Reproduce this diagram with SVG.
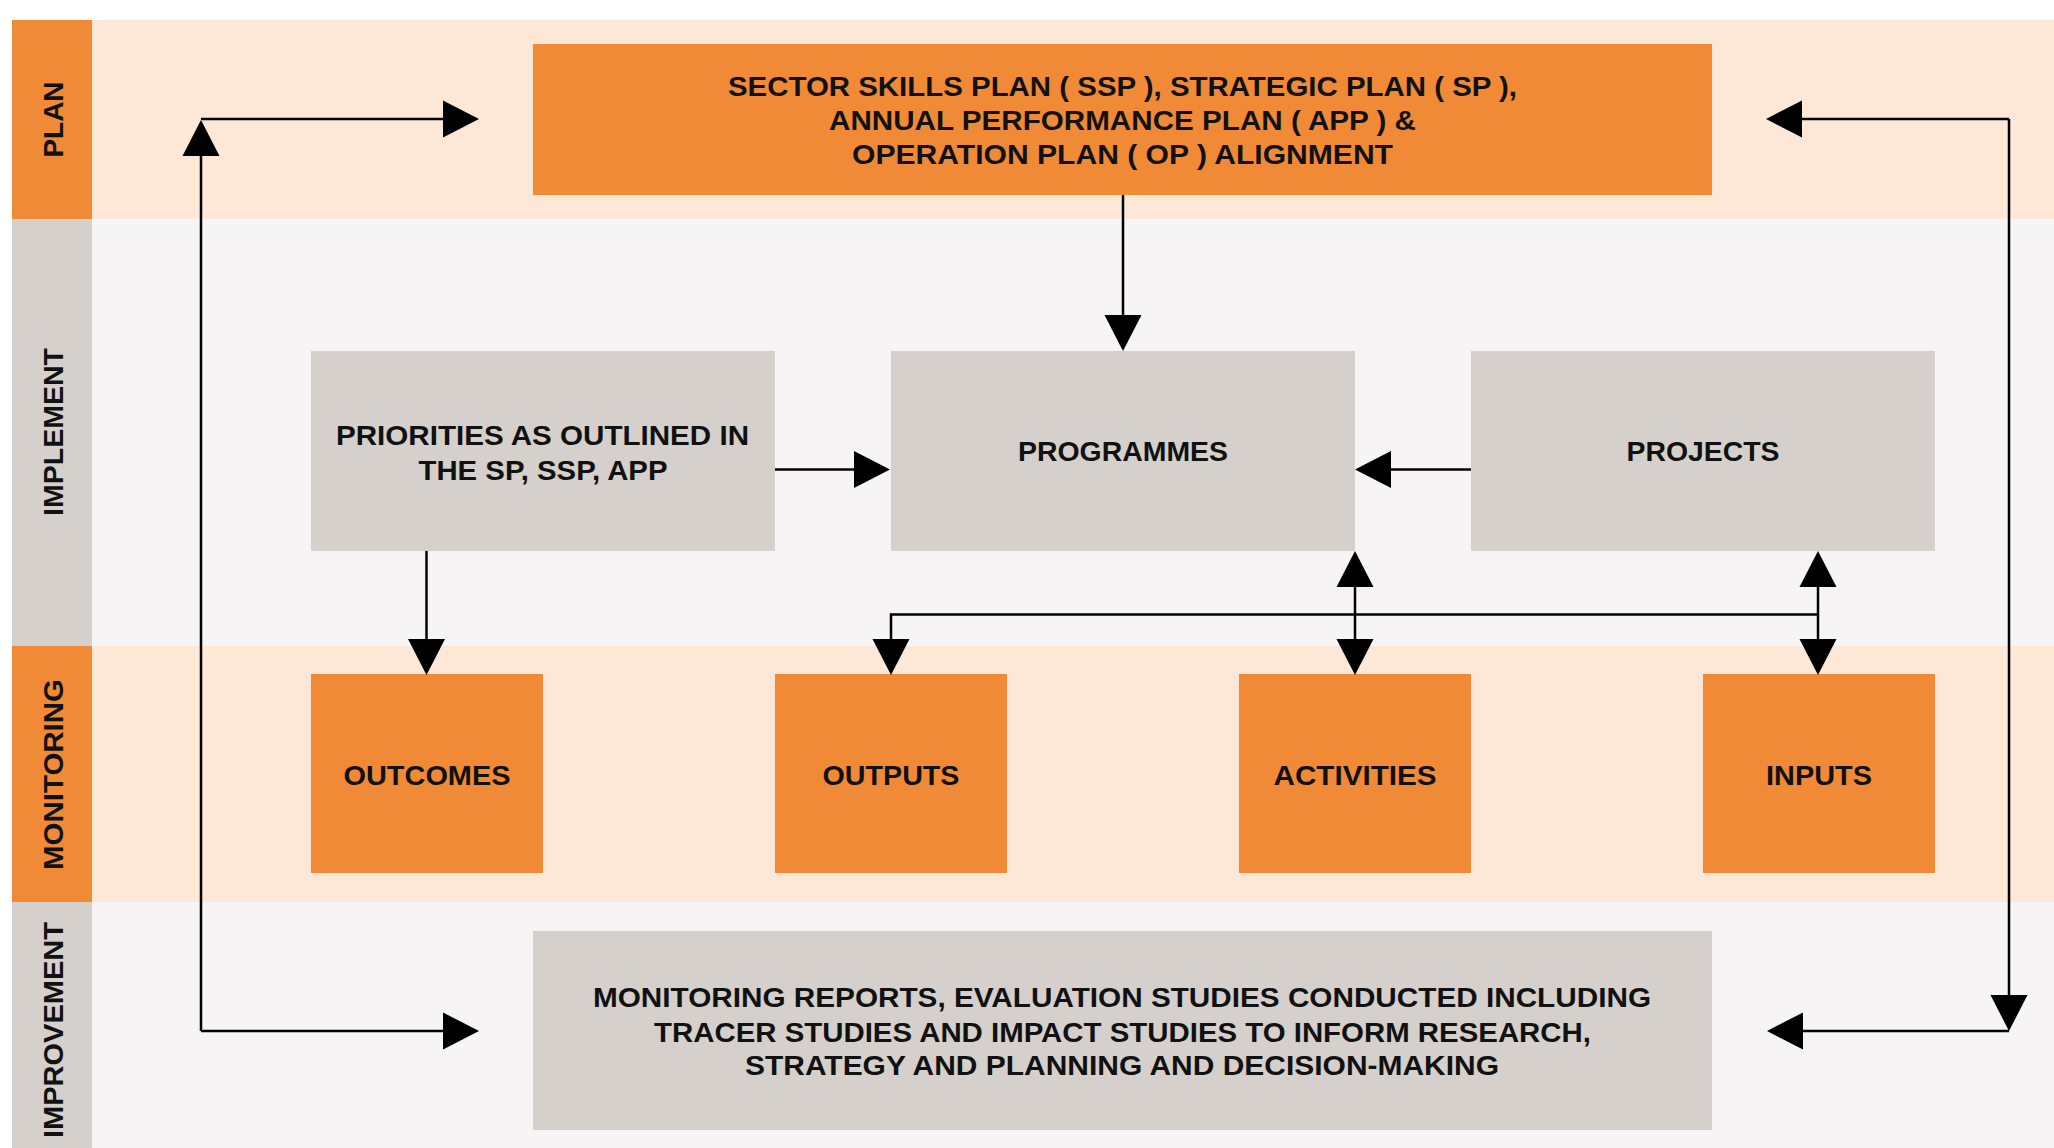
<svg xmlns="http://www.w3.org/2000/svg" width="2054" height="1148" viewBox="0 0 2054 1148">
<style>
.t{font-family:"Liberation Sans",Arial,sans-serif;font-weight:bold;fill:#111;text-anchor:middle}
.lbl{font-size:28px}
.n{font-size:28px}
.big{font-size:27px}
.orange{fill:#F18A36}
.grey{fill:#D5D0CC}
.peach{fill:#FDE8D8}
.light{fill:#F6F4F4}
.c{fill:none;stroke:#000;stroke-width:2.5}
</style>
<defs>
<marker id="ah" markerUnits="userSpaceOnUse" markerWidth="38" markerHeight="40" viewBox="0 -20 38 40" refX="0" refY="0" orient="auto-start-reverse">
<path d="M0,-18.5 L36,0 L0,18.5 z" fill="#000"/>
</marker>
</defs>
<rect width="2054" height="1148" fill="#FFFFFF"/>
<g id="bands">
<rect class="peach" x="92" y="20" width="1962" height="199"/>
<rect class="light" x="92" y="219" width="1962" height="427"/>
<rect class="peach" x="92" y="646" width="1962" height="256"/>
<rect class="light" x="92" y="902" width="1962" height="246"/>
</g>
<g id="lane-plan">
<rect class="orange" x="12" y="20" width="80" height="199"/>
<text class="t lbl" transform="translate(62.5,119.5) rotate(-90)" textLength="76" lengthAdjust="spacingAndGlyphs">PLAN</text>
</g>
<g id="lane-implement">
<rect class="grey" x="12" y="219" width="80" height="427"/>
<text class="t lbl" transform="translate(63,432) rotate(-90)" textLength="168" lengthAdjust="spacingAndGlyphs">IMPLEMENT</text>
</g>
<g id="lane-monitoring">
<rect class="orange" x="12" y="646" width="80" height="256"/>
<text class="t lbl" transform="translate(63,774.5) rotate(-90)" textLength="191" lengthAdjust="spacingAndGlyphs">MONITORING</text>
</g>
<g id="lane-improvement">
<rect class="grey" x="12" y="902" width="80" height="246"/>
<text class="t lbl" transform="translate(63,1030) rotate(-90)" textLength="216" lengthAdjust="spacingAndGlyphs">IMPROVEMENT</text>
</g>
<g id="node-plan">
<rect class="orange" x="533" y="44" width="1179" height="151"/>
<text class="t big" x="1122.5" y="96" textLength="789" lengthAdjust="spacingAndGlyphs">SECTOR SKILLS PLAN ( SSP ), STRATEGIC PLAN ( SP ),</text>
<text class="t big" x="1122.5" y="130" textLength="587" lengthAdjust="spacingAndGlyphs">ANNUAL PERFORMANCE PLAN ( APP ) &amp;</text>
<text class="t big" x="1122.5" y="164" textLength="541" lengthAdjust="spacingAndGlyphs">OPERATION PLAN ( OP ) ALIGNMENT</text>
</g>
<g id="node-priorities">
<rect class="grey" x="311" y="351" width="464" height="200"/>
<text class="t n" x="542.5" y="445" textLength="413" lengthAdjust="spacingAndGlyphs">PRIORITIES AS OUTLINED IN</text>
<text class="t n" x="543" y="480" textLength="249" lengthAdjust="spacingAndGlyphs">THE SP, SSP, APP</text>
</g>
<g id="node-programmes">
<rect class="grey" x="891" y="351" width="464" height="200"/>
<text class="t n" x="1123" y="461" textLength="210" lengthAdjust="spacingAndGlyphs">PROGRAMMES</text>
</g>
<g id="node-projects">
<rect class="grey" x="1471" y="351" width="464" height="200"/>
<text class="t n" x="1703" y="461" textLength="153" lengthAdjust="spacingAndGlyphs">PROJECTS</text>
</g>
<g id="node-outcomes">
<rect class="orange" x="311" y="674" width="232" height="199"/>
<text class="t n" x="427" y="784.5" textLength="167" lengthAdjust="spacingAndGlyphs">OUTCOMES</text>
</g>
<g id="node-outputs">
<rect class="orange" x="775" y="674" width="232" height="199"/>
<text class="t n" x="891" y="784.5" textLength="137" lengthAdjust="spacingAndGlyphs">OUTPUTS</text>
</g>
<g id="node-activities">
<rect class="orange" x="1239" y="674" width="232" height="199"/>
<text class="t n" x="1355" y="784.5" textLength="163" lengthAdjust="spacingAndGlyphs">ACTIVITIES</text>
</g>
<g id="node-inputs">
<rect class="orange" x="1703" y="674" width="232" height="199"/>
<text class="t n" x="1819" y="784.5" textLength="106" lengthAdjust="spacingAndGlyphs">INPUTS</text>
</g>
<g id="node-improvement">
<rect class="grey" x="533" y="931" width="1179" height="199"/>
<text class="t big" x="1122" y="1007" textLength="1058" lengthAdjust="spacingAndGlyphs">MONITORING REPORTS, EVALUATION STUDIES CONDUCTED INCLUDING</text>
<text class="t big" x="1122.5" y="1042" textLength="937" lengthAdjust="spacingAndGlyphs">TRACER STUDIES AND IMPACT STUDIES TO INFORM RESEARCH,</text>
<text class="t big" x="1122" y="1075" textLength="754" lengthAdjust="spacingAndGlyphs">STRATEGY AND PLANNING AND DECISION-MAKING</text>
</g>
<g id="connectors">
<path class="c" d="M201,1031 L201,156" marker-end="url(#ah)"/>
<path class="c" d="M201,119 L443,119" marker-end="url(#ah)"/>
<path class="c" d="M201,1031 L443,1031" marker-end="url(#ah)"/>
<path class="c" d="M2009,119 L1802,119" marker-end="url(#ah)"/>
<path class="c" d="M2009,119 L2009,995" marker-end="url(#ah)"/>
<path class="c" d="M2009,1031 L1803,1031" marker-end="url(#ah)"/>
<path class="c" d="M1123,195 L1123,315" marker-end="url(#ah)"/>
<path class="c" d="M775,469.5 L854,469.5" marker-end="url(#ah)"/>
<path class="c" d="M1471,469.5 L1391,469.5" marker-end="url(#ah)"/>
<path class="c" d="M426.5,551 L426.5,639" marker-end="url(#ah)"/>
<path class="c" d="M1355,587 L1355,639" marker-start="url(#ah)" marker-end="url(#ah)"/>
<path class="c" d="M1818,587 L1818,639" marker-start="url(#ah)" marker-end="url(#ah)"/>
<path class="c" d="M1818,614.5 L891,614.5 L891,639" marker-end="url(#ah)"/>
</g>
</svg>
